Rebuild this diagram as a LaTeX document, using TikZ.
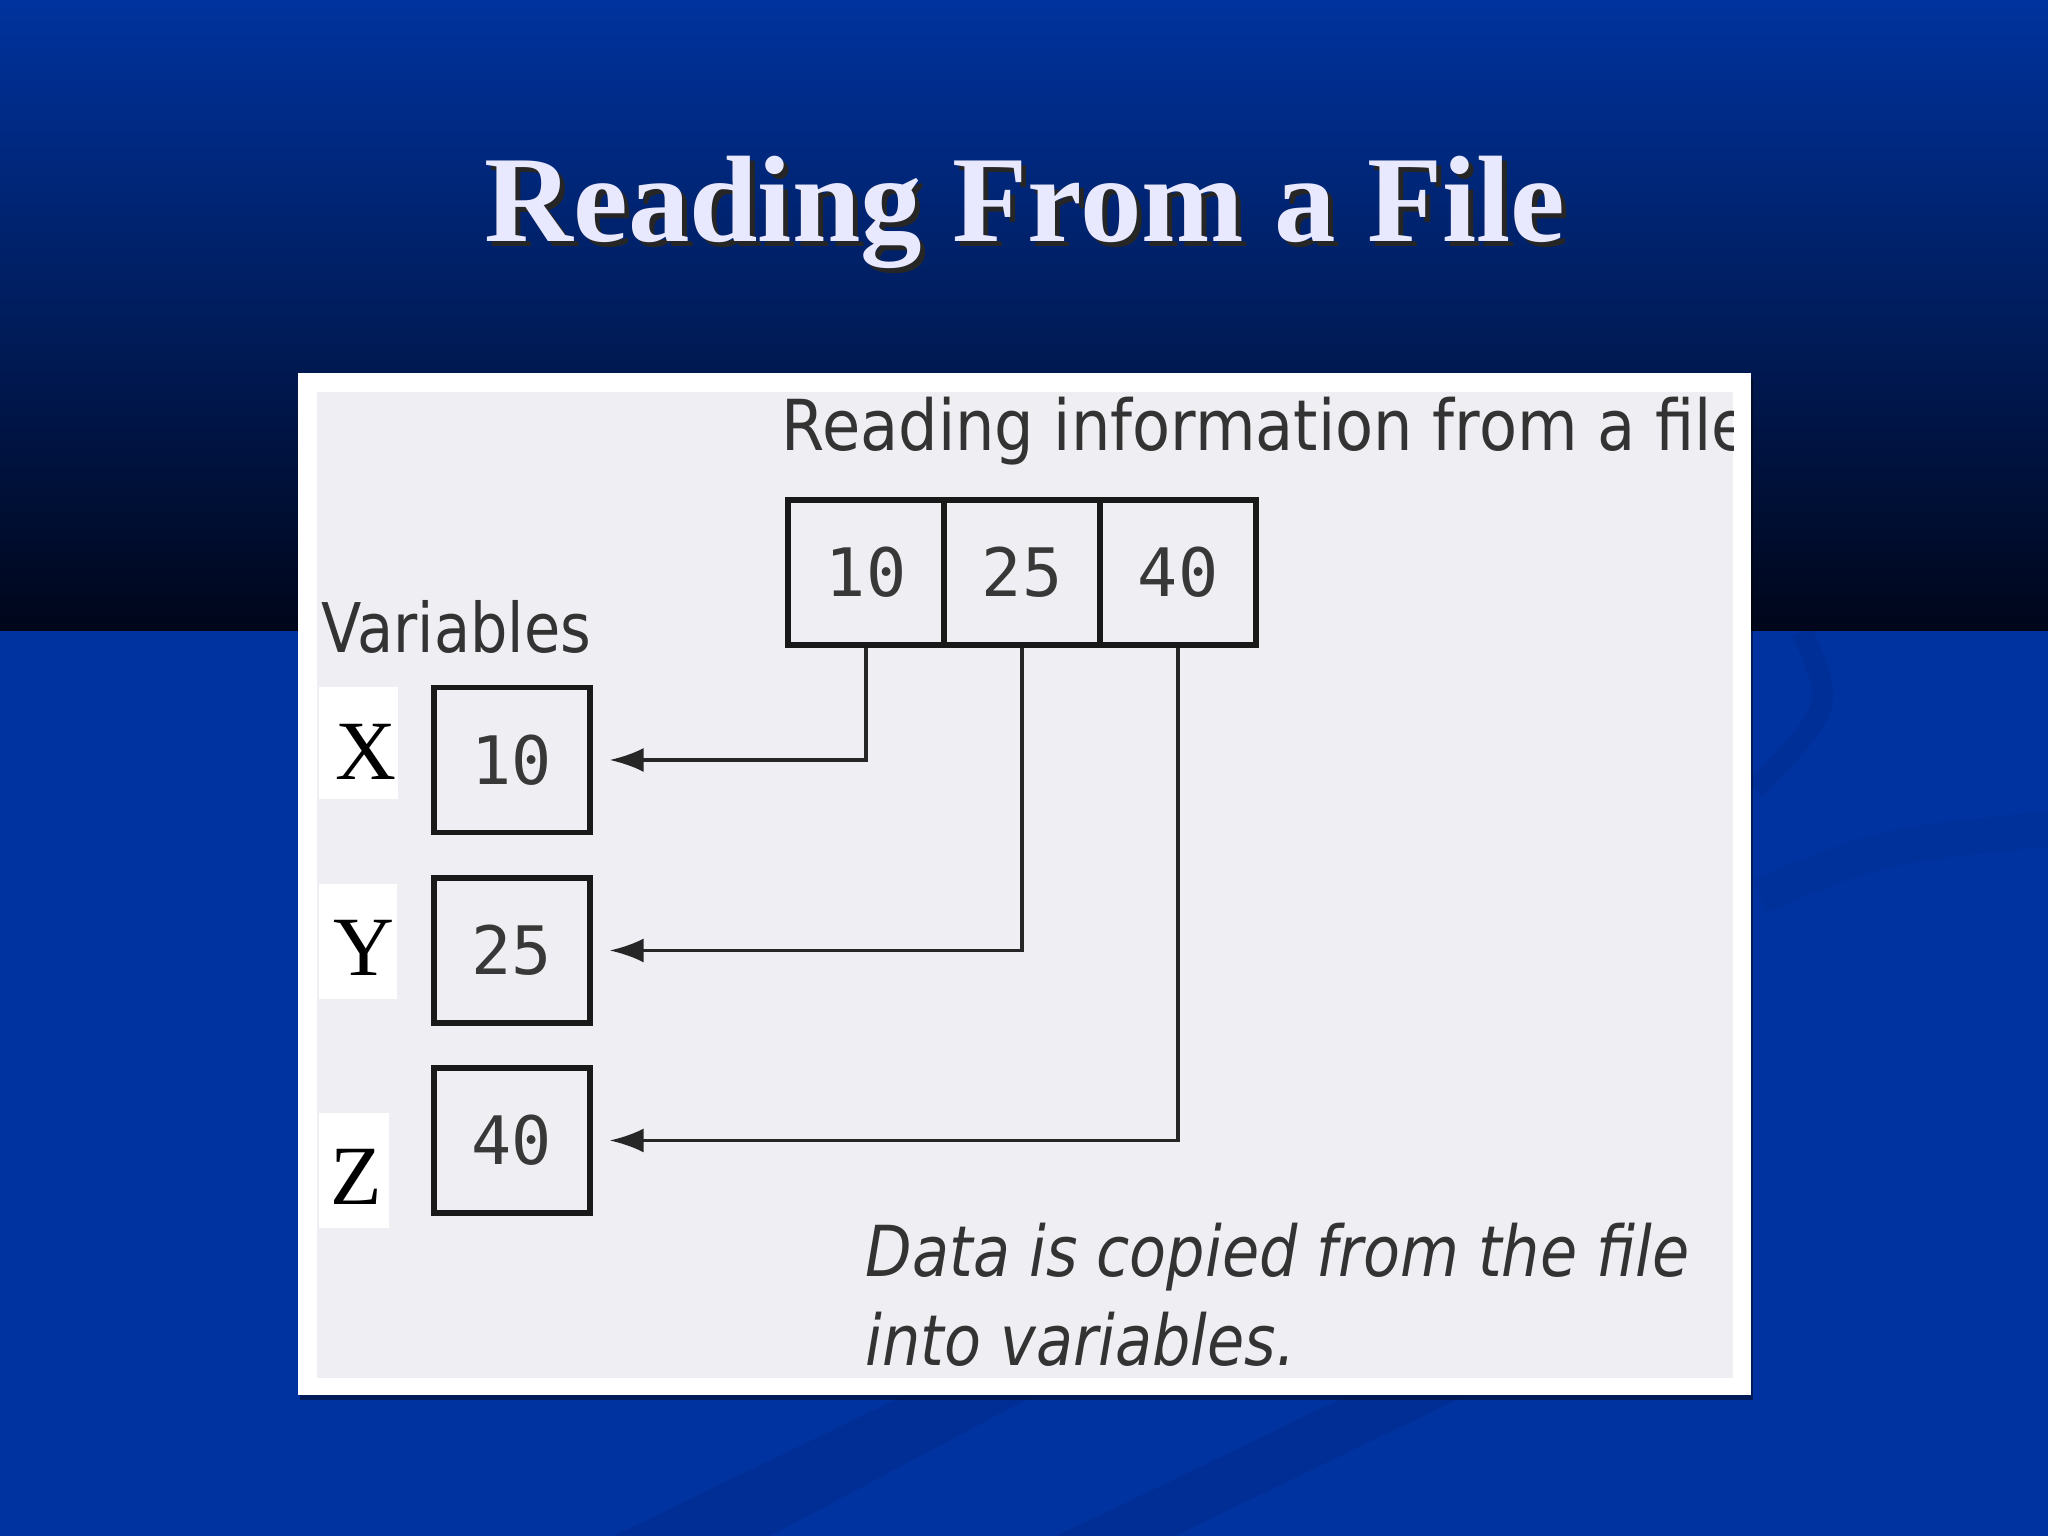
\documentclass[tikz,border=0pt]{standalone}
\usepackage{fontspec}
\setmainfont{Liberation Serif}
\newfontfamily\figfont{DejaVu Sans}[FakeStretch=0.86]
\newfontfamily\headfont{DejaVu Sans}[FakeStretch=0.885]
\newfontfamily\cellfont{DejaVu Sans Mono}
\usetikzlibrary{arrows.meta}
\definecolor{slidetop}{RGB}{0,51,158}
\definecolor{slidedark}{RGB}{0,6,26}
\definecolor{slideblue}{RGB}{0,50,160}
\definecolor{titlelav}{RGB}{232,232,255}
\definecolor{panelgrey}{RGB}{239,238,242}
\tikzset{
	cell/.style={draw=black!90, line width=1.5pt, minimum width=1.56cm, minimum height=1.45cm, inner sep=0pt, font=\cellfont\fontsize{19}{19}\selectfont, text=black!78},
	patch/.style={fill=white, inner sep=0pt},
	varname/.style={font=\fontsize{24}{24}\selectfont, inner sep=0pt},
	copyarrow/.style={line width=1pt, draw=black!85, -{Latex[length=3.4mm,width=2.4mm]}},
	caption/.style={font=\figfont\fontsize{20}{24}\selectfont, text=black!80, inner sep=0pt}
}
\begin{document}
\begin{tikzpicture}
		\useasboundingbox (0,0) rectangle (20.48,15.36);
		% slide background
		\fill[slideblue] (0,0) rectangle (20.48,9.06);
		\shade[top color=slidetop, bottom color=slidedark] (0,9.05) rectangle (20.48,15.36);
		\fill[black, opacity=0.07] (6.14,0)--(7.70,0)--(10.31,1.39)--(9.01,1.39)--cycle;
		\fill[black, opacity=0.07] (10.57,0)--(11.75,0)--(14.62,1.39)--(13.45,1.39)--cycle;
		\draw[black, opacity=0.05, line width=6pt] (18.02,9.04) .. controls (18.35,8.3) .. (17.55,7.47);
		\draw[black, opacity=0.04, line width=10pt] (17.6,6.4) .. controls (18.8,6.9) .. (20.48,7.07);
		% title
		\node[font=\fontsize{35}{35}\selectfont\bfseries, text=black!85, anchor=base] (titleshadow) at (10.30,12.89) {Reading From a File};
		\node[font=\fontsize{35}{35}\selectfont\bfseries, text=titlelav, anchor=base] (title) at (10.25,12.94) {Reading From a File};
		% panel
		\fill[black, opacity=0.45] (3.00,1.36) rectangle (17.53,11.58);
		\fill[white] (2.98,1.41) rectangle (17.51,11.63);
		\fill[panelgrey] (3.17,1.58) rectangle (17.33,11.44);
		\begin{scope}
			\clip (3.17,1.58) rectangle (17.33,11.44);
			\node[caption, font=\headfont\fontsize{20}{24}\selectfont, anchor=base west] (heading) at (7.81,10.85) {Reading information from a file};
		\end{scope}
		\node[caption, font=\figfont\fontsize{19.5}{24}\selectfont, anchor=base west] (varhead) at (3.21,8.83) {Variables};
		% file contents
		\node[cell] (cell10) at (8.66,9.635) {10};
		\node[cell] (cell25) at (10.22,9.635) {25};
		\node[cell] (cell40) at (11.78,9.635) {40};
		% variables
		\node[cell] (varX) at (5.12,7.76) {10};
		\node[cell] (varY) at (5.12,5.855) {25};
		\node[cell] (varZ) at (5.12,3.955) {40};
		\node[patch, minimum width=0.79cm, minimum height=1.12cm] (patchX) at (3.585,7.93) {};
		\node[patch, minimum width=0.78cm, minimum height=1.15cm] (patchY) at (3.58,5.945) {};
		\node[patch, minimum width=0.70cm, minimum height=1.15cm] (patchZ) at (3.54,3.655) {};
		\node[varname] (nameX) at (3.66,7.84) {X};
		\node[varname] (nameY) at (3.64,5.88) {Y};
		\node[varname] (nameZ) at (3.565,3.59) {Z};
		% copies
		\draw[copyarrow] (cell10.south) |- ([xshift=0.17cm]varX.east);
		\draw[copyarrow] (cell25.south) |- ([xshift=0.17cm]varY.east);
		\draw[copyarrow] (cell40.south) |- ([xshift=0.17cm]varZ.east);
		\node[caption, font=\figfont\itshape\fontsize{20}{24}\selectfont, anchor=base west] (noteA) at (8.65,2.59) {Data is copied from the file};
		\node[caption, font=\figfont\itshape\fontsize{20}{24}\selectfont, anchor=base west] (noteB) at (8.65,1.70) {into variables.};
	\end{tikzpicture}
\end{document}
